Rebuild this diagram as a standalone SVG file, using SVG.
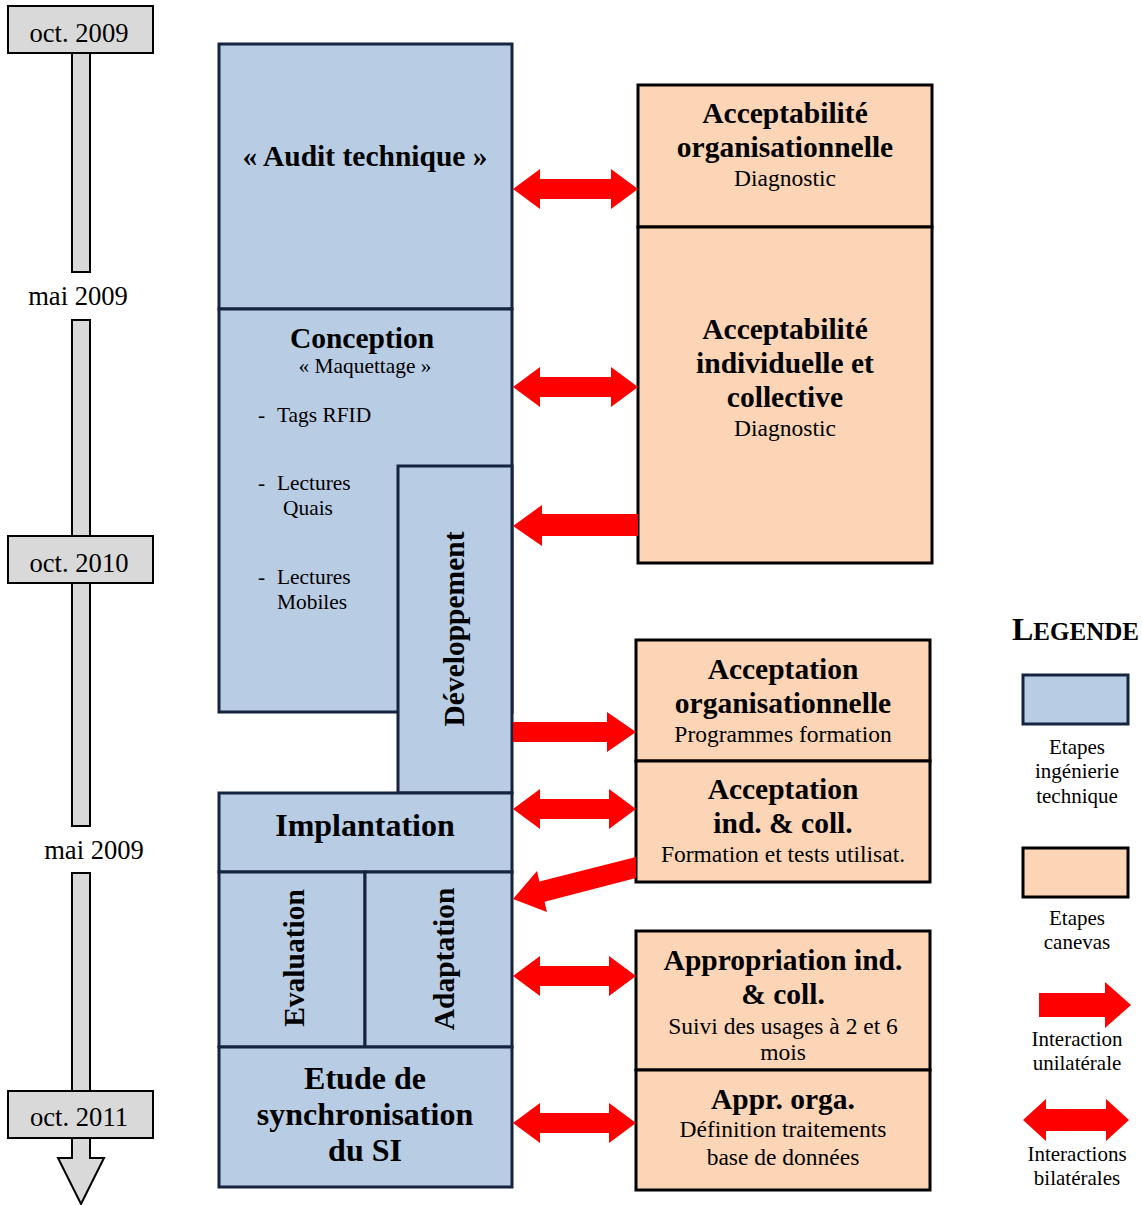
<svg xmlns="http://www.w3.org/2000/svg" width="1142" height="1205" viewBox="0 0 1142 1205">
<style>
text{font-family:"Liberation Serif","Times New Roman",serif;fill:#000}
.blue{fill:#b8cce4;stroke:#14233f;stroke-width:3}
.org{fill:#fbd5b5;stroke:#000;stroke-width:3}
.tl{fill:#d9d9d9;stroke:#000;stroke-width:2}
.arr{fill:#ff0000}
.t{font-size:29.5px;font-weight:bold;text-anchor:middle}
.tb{font-size:32px}
.s{font-size:23.5px;text-anchor:middle}
.d{font-size:26.6px;text-anchor:middle}
.b{font-size:21.4px}
.lg{font-size:21px;text-anchor:middle}
</style>
<rect width="1142" height="1205" fill="#fff"/>
<g id="timeline">
<rect class="tl" x="72" y="53" width="18" height="219"/>
<rect class="tl" x="72" y="320" width="18" height="216"/>
<rect class="tl" x="72" y="583" width="18" height="243"/>
<rect class="tl" x="72" y="873" width="18" height="218"/>
<polygon class="tl" points="72,1138 90,1138 90,1158 104,1158 81,1204 58,1158 72,1158"/>
<rect class="tl" x="8" y="6" width="145" height="47"/>
<text class="d" x="79" y="42">oct. 2009</text>
<text class="d" x="78" y="305">mai 2009</text>
<rect class="tl" x="8" y="536" width="145" height="47"/>
<text class="d" x="79" y="572">oct. 2010</text>
<text class="d" x="94" y="859">mai 2009</text>
<rect class="tl" x="8" y="1091" width="145" height="47"/>
<text class="d" x="79" y="1126">oct. 2011</text>
</g>
<g id="audit">
<rect class="blue" x="219" y="44" width="293" height="265"/>
<text class="t" x="365" y="166">« Audit technique »</text>
</g>
<g id="conception">
<rect class="blue" x="219" y="309" width="293" height="403"/>
<text class="t" x="362" y="348">Conception</text>
<text class="s" x="365" y="373" style="font-size:21.4px">« Maquettage »</text>
<text class="b" x="258" y="422">-</text><text class="b" x="277" y="422">Tags RFID</text>
<text class="b" x="258" y="490">-</text><text class="b" x="277" y="490">Lectures</text>
<text class="b" x="283" y="515">Quais</text>
<text class="b" x="258" y="584">-</text><text class="b" x="277" y="584">Lectures</text>
<text class="b" x="277" y="609">Mobiles</text>
</g>
<g id="developpement">
<rect class="blue" x="398" y="466" width="114" height="327"/>
<text class="t" transform="translate(464,629) rotate(-90)">Développement</text>
</g>
<g id="implantation">
<rect class="blue" x="219" y="793" width="293" height="79"/>
<text class="t tb" x="365" y="836">Implantation</text>
</g>
<g id="evaluation">
<rect class="blue" x="219" y="872" width="146" height="175"/>
<text class="t" transform="translate(304,958) rotate(-90)">Evaluation</text>
</g>
<g id="adaptation">
<rect class="blue" x="365" y="872" width="147" height="175"/>
<text class="t" transform="translate(454,959) rotate(-90)">Adaptation</text>
</g>
<g id="etude">
<rect class="blue" x="219" y="1047" width="293" height="140"/>
<text class="t tb" x="365" y="1089">Etude de</text>
<text class="t tb" x="365" y="1125">synchronisation</text>
<text class="t tb" x="365" y="1161">du SI</text>
</g>
<g id="accept-orga">
<rect class="org" x="638" y="85" width="294" height="142"/>
<text class="t" x="785" y="123">Acceptabilité</text>
<text class="t" x="785" y="157">organisationnelle</text>
<text class="s" x="785" y="186">Diagnostic</text>
</g>
<g id="accept-ind">
<rect class="org" x="638" y="227" width="294" height="336"/>
<text class="t" x="785" y="339">Acceptabilité</text>
<text class="t" x="785" y="373">individuelle et</text>
<text class="t" x="785" y="407">collective</text>
<text class="s" x="785" y="436">Diagnostic</text>
</g>
<g id="acceptation-orga">
<rect class="org" x="636" y="640" width="294" height="121"/>
<text class="t" x="783" y="679">Acceptation</text>
<text class="t" x="783" y="713">organisationnelle</text>
<text class="s" x="783" y="742">Programmes formation</text>
</g>
<g id="acceptation-ind">
<rect class="org" x="636" y="761" width="294" height="121"/>
<text class="t" x="783" y="799">Acceptation</text>
<text class="t" x="783" y="833">ind. &amp; coll.</text>
<text class="s" x="783" y="862">Formation et tests utilisat.</text>
</g>
<g id="appropriation-ind">
<rect class="org" x="636" y="931" width="294" height="139"/>
<text class="t" x="783" y="970">Appropriation ind.</text>
<text class="t" x="783" y="1004">&amp; coll.</text>
<text class="s" x="783" y="1034">Suivi des usages à 2 et 6</text>
<text class="s" x="783" y="1060">mois</text>
</g>
<g id="appr-orga">
<rect class="org" x="636" y="1070" width="294" height="120"/>
<text class="t" x="783" y="1109">Appr. orga.</text>
<text class="s" x="783" y="1137">Définition traitements</text>
<text class="s" x="783" y="1165">base de données</text>
</g>
<g id="connectors">
<polygon class="arr" points="513,189 540,169 540,179 611,179 611,169 638,189 611,209 611,199 540,199 540,209"/>
<polygon class="arr" points="513,387 540,367 540,377 611,377 611,367 638,387 611,407 611,397 540,397 540,407"/>
<polygon class="arr" points="513,526 542,505 542,514 638,514 638,536 542,536 542,546"/>
<polygon class="arr" points="513,722 607,722 607,712 636,732 607,752 607,742 513,742"/>
<polygon class="arr" points="513,809 540,789 540,799 609,799 609,789 636,809 609,829 609,819 540,819 540,829"/>
<polygon class="arr" points="513,899 537,871 539.4,881.4 636,857 636,878 544.6,901.8 547,912"/>
<polygon class="arr" points="513,976 540,956 540,966 609,966 609,956 636,976 609,996 609,986 540,986 540,996"/>
<polygon class="arr" points="513,1123 540,1103 540,1113 609,1113 609,1103 636,1123 609,1143 609,1133 540,1133 540,1143"/>
</g>
<g id="legend">
<text x="1012" y="640" style="font-weight:bold"><tspan font-size="32">L</tspan><tspan font-size="25">EGENDE</tspan></text>
<rect class="blue" x="1023" y="675" width="105" height="49"/>
<text class="lg" x="1077" y="754">Etapes</text>
<text class="lg" x="1077" y="778">ingénierie</text>
<text class="lg" x="1077" y="803">technique</text>
<rect class="org" x="1023" y="848" width="105" height="49"/>
<text class="lg" x="1077" y="925">Etapes</text>
<text class="lg" x="1077" y="949">canevas</text>
<polygon class="arr" points="1039,993 1105,993 1105,982 1131,1005 1105,1028 1105,1017 1039,1017"/>
<text class="lg" x="1077" y="1046">Interaction</text>
<text class="lg" x="1077" y="1070">unilatérale</text>
<polygon class="arr" points="1023,1120 1046,1099 1046,1109 1106,1109 1106,1099 1129,1120 1106,1141 1106,1131 1046,1131 1046,1141"/>
<text class="lg" x="1077" y="1161">Interactions</text>
<text class="lg" x="1077" y="1185">bilatérales</text>
</g>
</svg>
